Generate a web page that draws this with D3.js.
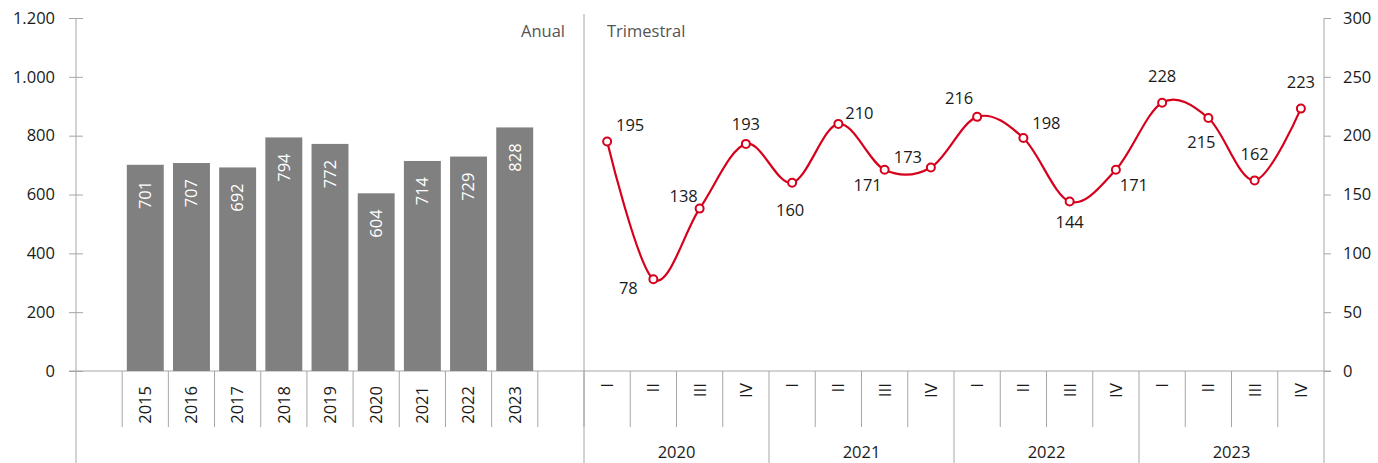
<!DOCTYPE html>
<html>
<head>
<meta charset="utf-8">
<script src="https://cdn.jsdelivr.net/npm/d3@7"></script>
<style>
  body { margin: 0; background: #fff; }
  text { font-family: "Open Sans", "Noto Sans", sans-serif; }
</style>
</head>
<body>
<svg id="chart"></svg>
<script>
// annual data (left panel)
const years = ["2015", "2016", "2017", "2018", "2019", "2020", "2021", "2022", "2023"];
const annualValues = [701, 707, 692, 794, 772, 604, 714, 729, 828];
const leftTicks = [0, 200, 400, 600, 800, 1000, 1200];

// quarterly data (right panel)
const quarterYears = ["2020", "2021", "2022", "2023"];
const quarters = ["I", "II", "III", "IV"];
const quarterValues = [195, 78, 138, 193, 160, 210, 171, 173, 216, 198, 144, 171, 228, 215, 162, 223];
const rightTicks = [0, 50, 100, 150, 200, 250, 300];

// where each point label sits relative to its marker
const labelOffsets = [
    [23, -16], [-25, 9], [-16, -12], [0, -20], [-2, 27], [21, -11], [-17, 15], [-23, -10],
    [-18, -19], [23, -15], [0, 21], [18, 15], [0, -26], [-7, 24], [0, -26], [0, -26]
];

const W = 1378, H = 463;
const yTop = 18, base = 371;
const leftX0 = 76, midX = 584, rightX1 = 1324;
const axisColor = "#a6a6a6";
const textColor = "#1a1a1a";
const red = "#d6001c";
const fs = "16.5px";

const svg = d3.select("#chart")
    .attr("width", W)
    .attr("height", H);

// scales
const xAnnual = d3.scaleBand()
    .domain(["_a"].concat(years, ["_b"]))
    .range([leftX0, midX]);
const yLeft = d3.scaleLinear()
    .domain([0, 1200])
    .range([base, yTop]);

const qKeys = [];
quarterYears.forEach(y => quarters.forEach(q => qKeys.push(y + "-" + q)));
const xQuarter = d3.scaleBand()
    .domain(qKeys)
    .range([midX, rightX1]);
const yRight = d3.scaleLinear()
    .domain([0, 300])
    .range([base, yTop]);

// left axis
const gl = svg.append("g").attr("transform", `translate(${leftX0},0)`)
    .call(d3.axisLeft(yLeft).tickValues(leftTicks).tickSize(7).tickPadding(14)
        .tickFormat(d => d3.format(",")(d).replace(/,/g, ".")));
gl.select(".domain").remove();
gl.selectAll(".tick line").attr("stroke", axisColor).attr("x2", 7).attr("x1", -7);
gl.selectAll(".tick text").attr("fill", textColor).style("font-size", fs);
svg.append("line").attr("x1", leftX0).attr("x2", leftX0).attr("y1", yTop).attr("y2", H)
    .attr("stroke", axisColor);

// right axis
const gr = svg.append("g").attr("transform", `translate(${rightX1},0)`)
    .call(d3.axisRight(yRight).tickValues(rightTicks).tickSize(7).tickPadding(12));
gr.select(".domain").remove();
gr.selectAll(".tick line").attr("stroke", axisColor);
gr.selectAll(".tick text").attr("fill", textColor).style("font-size", fs);
svg.append("line").attr("x1", rightX1).attr("x2", rightX1).attr("y1", yTop).attr("y2", H)
    .attr("stroke", axisColor);

// divider
svg.append("line").attr("x1", midX).attr("x2", midX).attr("y1", 14).attr("y2", H)
    .attr("stroke", axisColor);

// baseline
svg.append("line").attr("x1", leftX0 - 7).attr("x2", rightX1 + 7).attr("y1", base).attr("y2", base)
    .attr("stroke", axisColor);

// category separators (left)
const leftSeps = xAnnual.domain().map(d => xAnnual(d)).concat([midX]);
svg.append("g").selectAll("line")
    .data(leftSeps.slice(1))
    .join("line")
    .attr("x1", d => d).attr("x2", d => d)
    .attr("y1", base).attr("y2", 427)
    .attr("stroke", axisColor);

// category separators (right)
svg.append("g").selectAll("line")
    .data(qKeys.slice(1))
    .join("line")
    .attr("x1", d => xQuarter(d)).attr("x2", d => xQuarter(d))
    .attr("y1", base)
    .attr("y2", d => d.endsWith("-I") ? H : 427)
    .attr("stroke", axisColor);

// bars
svg.append("g").selectAll("rect")
    .data(years)
    .join("rect")
    .attr("x", (d, i) => xAnnual(d) + xAnnual.bandwidth() * 0.1)
    .attr("width", xAnnual.bandwidth() * 0.8)
    .attr("y", (d, i) => yLeft(annualValues[i]))
    .attr("height", (d, i) => base - yLeft(annualValues[i]))
    .attr("fill", "#808080");

// bar value labels
svg.append("g").selectAll("text")
    .data(years)
    .join("text")
    .attr("transform", (d, i) => `translate(${xAnnual(d) + xAnnual.bandwidth() / 2},${yLeft(annualValues[i]) + 16}) rotate(-90)`)
    .attr("text-anchor", "end")
    .attr("dy", "0.35em")
    .attr("fill", "#fff")
    .style("font-size", fs)
    .text((d, i) => annualValues[i]);

// year labels (left)
svg.append("g").selectAll("text")
    .data(years)
    .join("text")
    .attr("transform", d => `translate(${xAnnual(d) + xAnnual.bandwidth() / 2},386) rotate(-90)`)
    .attr("text-anchor", "end")
    .attr("dy", "0.35em")
    .attr("fill", textColor)
    .style("font-size", fs)
    .text(d => d);

// quarter labels (right)
svg.append("g").selectAll("text")
    .data(qKeys)
    .join("text")
    .attr("transform", d => `translate(${xQuarter(d) + xQuarter.bandwidth() / 2},383) rotate(-90)`)
    .attr("text-anchor", "end")
    .attr("dy", "0.35em")
    .attr("fill", textColor)
    .style("font-size", "17px")
    .text(d => d.split("-")[1]);

// year group labels (right)
svg.append("g").selectAll("text")
    .data(quarterYears)
    .join("text")
    .attr("x", y => (xQuarter(y + "-I") + xQuarter(y + "-IV") + xQuarter.bandwidth()) / 2)
    .attr("y", 452)
    .attr("text-anchor", "middle")
    .attr("dy", "0.35em")
    .attr("fill", textColor)
    .style("font-size", fs)
    .text(y => y);

// panel titles
svg.append("text").attr("x", 565).attr("y", 31).attr("text-anchor", "end").attr("dy", "0.35em")
    .attr("fill", "#555").style("font-size", "16.5px").text("Anual");
svg.append("text").attr("x", 607).attr("y", 31).attr("text-anchor", "start").attr("dy", "0.35em")
    .attr("fill", "#555").style("font-size", "16.5px").text("Trimestral");

// quarterly line
const qx = (d, i) => xQuarter(qKeys[i]) + xQuarter.bandwidth() / 2;
const qy = d => yRight(d);
const line = d3.line()
    .x(qx)
    .y(qy)
    .curve(d3.curveCardinal.tension(0));

svg.append("path")
    .datum(quarterValues)
    .attr("fill", "none")
    .attr("stroke", red)
    .attr("stroke-width", 2.2)
    .attr("d", line);

svg.append("g").selectAll("circle")
    .data(quarterValues)
    .join("circle")
    .attr("cx", qx)
    .attr("cy", qy)
    .attr("r", 4)
    .attr("fill", "#fff")
    .attr("stroke", red)
    .attr("stroke-width", 2);

svg.append("g").selectAll("text")
    .data(quarterValues)
    .join("text")
    .attr("x", (d, i) => qx(d, i) + labelOffsets[i][0])
    .attr("y", (d, i) => qy(d) + labelOffsets[i][1])
    .attr("text-anchor", "middle")
    .attr("dy", "0.35em")
    .attr("fill", textColor)
    .style("font-size", fs)
    .text(d => d);
</script>
</body>
</html>
